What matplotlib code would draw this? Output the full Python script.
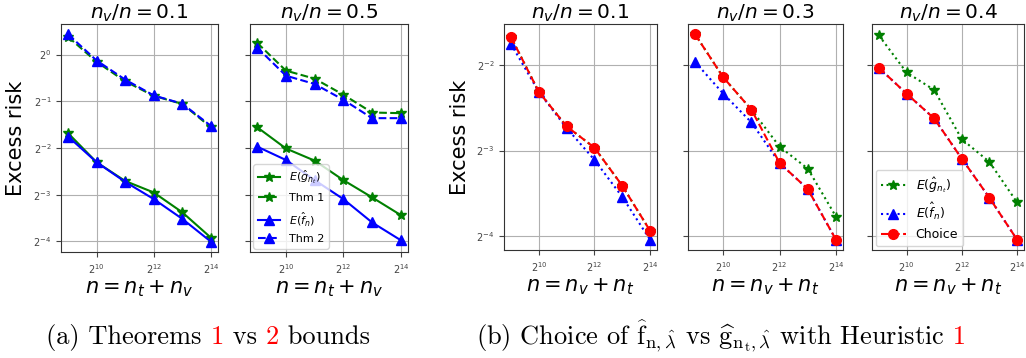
import matplotlib
matplotlib.use("Agg")
import matplotlib.pyplot as plt

n = [2**9, 2**10, 2**11, 2**12, 2**13, 2**14]

# (a) theorems vs bounds
eg_a01 = [0.311, 0.202, 0.153, 0.129, 0.0961, 0.0660]
ef_a01 = [0.296, 0.202, 0.151, 0.117, 0.0872, 0.0622]
thm1_a01 = [1.30, 0.897, 0.672, 0.542, 0.480, 0.340]
thm2_a01 = [1.35, 0.915, 0.689, 0.545, 0.482, 0.347]

eg_a05 = [0.340, 0.248, 0.207, 0.155, 0.120, 0.0922]
ef_a05 = [0.255, 0.209, 0.155, 0.117, 0.0827, 0.0635]
thm1_a05 = [1.19, 0.788, 0.699, 0.551, 0.423, 0.419]
thm2_a05 = [1.11, 0.731, 0.646, 0.511, 0.389, 0.389]

# (b) choice with heuristic
eg_b01 = [0.313, 0.201, 0.152, 0.128, 0.0941, 0.0654]
ef_b01 = [0.296, 0.201, 0.150, 0.116, 0.0860, 0.0608]
ch_b01 = [0.313, 0.201, 0.152, 0.128, 0.0941, 0.0654]

eg_b03 = [0.320, 0.226, 0.174, 0.129, 0.108, 0.0733]
ef_b03 = [0.256, 0.198, 0.157, 0.113, 0.0916, 0.0608]
ch_b03 = [0.320, 0.226, 0.174, 0.113, 0.0916, 0.0608]

eg_b04 = [0.317, 0.235, 0.204, 0.137, 0.114, 0.0822]
ef_b04 = [0.244, 0.198, 0.162, 0.117, 0.0853, 0.0608]
ch_b04 = [0.244, 0.198, 0.162, 0.117, 0.0853, 0.0608]

W, H = 1026, 358
fig = plt.figure(figsize=(W / 100, H / 100), dpi=100)


def add_ax(x0, x1, y0, y1, sharey=None):
    return fig.add_axes([x0 / W, 1 - y1 / H, (x1 - x0) / W, (y1 - y0) / H], sharey=sharey)


def style(ax, title, xlabel):
    ax.set_xscale("log", base=2)
    ax.set_yscale("log", base=2)
    ax.set_xticks([2**10, 2**12, 2**14])
    ax.minorticks_off()
    ax.grid(True, color="#b0b0b0", lw=0.8)
    ax.tick_params(labelsize=7, colors="#444444", labelcolor="#444444")
    for s in ax.spines.values():
        s.set_color("#333333")
    ax.set_title(title, fontsize=14.5, pad=4)
    ax.set_xlabel(xlabel, fontsize=15, labelpad=2)


ms = 7
ax1 = add_ax(61, 218, 24, 252)
ax2 = add_ax(250, 408, 24, 252, sharey=ax1)
for ax, eg, thm1, ef, thm2, t in [(ax1, eg_a01, thm1_a01, ef_a01, thm2_a01, 0.1),
                                  (ax2, eg_a05, thm1_a05, ef_a05, thm2_a05, 0.5)]:
    ax.plot(n, eg, "-*", color="green", ms=ms, lw=1.5, label=r"$E(\hat{g}_{n_t})$")
    ax.plot(n, thm1, "--*", color="green", ms=ms, lw=1.5, label="Thm 1")
    ax.plot(n, ef, "-^", color="blue", ms=ms, lw=1.5, label=r"$E(\hat{f}_n)$")
    ax.plot(n, thm2, "--^", color="blue", ms=ms, lw=1.5, label="Thm 2")
    style(ax, r"$n_v/n = %s$" % t, r"$n = n_t + n_v$")
ax1.set_ylabel("Excess risk", fontsize=15)
ax1.yaxis.set_label_coords(-0.22, 0.5)
plt.setp(ax2.get_yticklabels(), visible=False)
ax2.legend(loc="lower left", fontsize=8, labelspacing=0.6, borderaxespad=0.3)

ax3 = add_ax(504, 657, 24, 250)
ax4 = add_ax(688, 843, 24, 250, sharey=ax3)
ax5 = add_ax(872, 1024, 24, 250, sharey=ax3)
for ax, eg, ef, ch, t in [(ax3, eg_b01, ef_b01, ch_b01, 0.1),
                          (ax4, eg_b03, ef_b03, ch_b03, 0.3),
                          (ax5, eg_b04, ef_b04, ch_b04, 0.4)]:
    ax.plot(n, eg, ":*", color="green", ms=ms, lw=1.5, label=r"$E(\hat{g}_{n_t})$")
    ax.plot(n, ef, ":^", color="blue", ms=ms, lw=1.5, label=r"$E(\hat{f}_n)$")
    ax.plot(n, ch, "--o", color="red", ms=ms, lw=1.5, label="Choice")
    style(ax, r"$n_v/n = %s$" % t, r"$n = n_v + n_t$")
ax3.set_ylabel("Excess risk", fontsize=15)
ax3.yaxis.set_label_coords(-0.22, 0.5)
plt.setp(ax4.get_yticklabels(), visible=False)
plt.setp(ax5.get_yticklabels(), visible=False)
ax5.legend(loc="lower left", fontsize=9, borderaxespad=0.3)

# captions, drawn piece by piece so the reference numbers can be red
renderer = fig.canvas.get_renderer()


def caption(parts, xc, yb, size=19):
    texts = []
    for s, c in parts:
        texts.append(fig.text(0, 0, s, color=c, fontsize=size, family="cmr10",
                              math_fontfamily="cm", va="baseline"))
    widths = [t.get_window_extent(renderer).width for t in texts]
    x = xc - sum(widths) / 2
    for t, w in zip(texts, widths):
        t.set_position((x / W, 1 - yb / H))
        x += w


caption([("(a) Theorems ", "black"), ("1", "red"), (" vs ", "black"),
         ("2", "red"), (" bounds", "black")], 208, 344)
caption([(r"(b) Choice of $\widehat{\mathrm{f}}_{\mathrm{n},\hat{\lambda}}$ vs "
          r"$\widehat{\mathrm{g}}_{\mathrm{n}_{\mathrm{t}},\hat{\lambda}}$ with Heuristic", "black"),
         (" 1", "red")], 721, 344)

fig.savefig("out.png", dpi=100)
